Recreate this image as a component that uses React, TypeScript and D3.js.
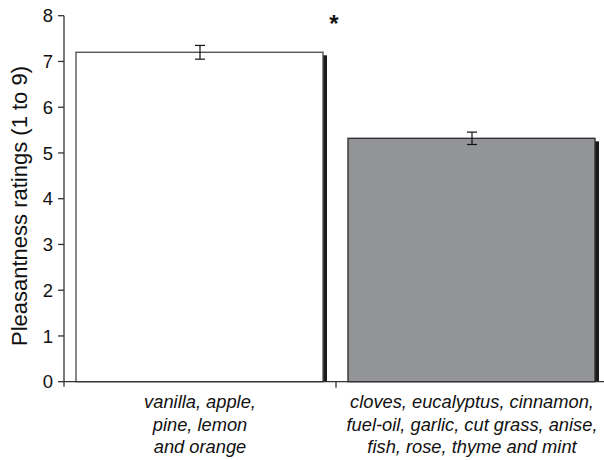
import React from "react";
import * as d3 from "d3";

const categories = ["odorsA", "odorsB"];
const labelLines = [
  ["vanilla, apple,", "pine, lemon", "and orange"],
  ["cloves, eucalyptus, cinnamon,", "fuel-oil, garlic, cut grass, anise,", "fish, rose, thyme and mint"],
];
const values = [7.2, 5.32];
const errors = [0.15, 0.135];
const yTicks = [0, 1, 2, 3, 4, 5, 6, 7, 8];
const fills = ["#ffffff", "#939497"];
const strokes = ["#555555", "#333333"];

export default function App() {
  const W = 604, H = 460;
  const left = 64, right = 608, top = 15.7, bottom = 381.7;
  const x = d3.scaleBand<string>().domain(categories).range([left, right]).paddingInner(0).paddingOuter(0);
  const y = d3.scaleLinear().domain([0, 8]).range([bottom, top]);
  const bw = x.bandwidth();
  const barInset = 12;
  const font = "Liberation Sans, Arial, sans-serif";
  return (
    <svg width={W} height={H} style={{ position: "absolute", left: 0, top: 0 }} fontFamily={font}>
      <rect width={W} height={H} fill="#fff" />
      {categories.map((c, i) => {
        const x0 = x(c)! + barInset;
        const x1 = x(c)! + bw - barInset - 1;
        const yt = y(values[i]);
        return (
          <g key={c}>
            <rect x={x1} y={yt + 3} width={4} height={bottom - yt - 3} fill="#1a1a1a" />
            <rect x={x0} y={yt} width={x1 - x0} height={bottom - yt} fill={fills[i]} stroke={strokes[i]} strokeWidth={1.4} />
          </g>
        );
      })}
      {categories.map((c, i) => {
        const cx = x(c)! + bw / 2;
        const y1 = y(values[i] + errors[i]);
        const y2 = y(values[i] - errors[i]);
        return (
          <g key={c + "e"} stroke="#111" strokeWidth={1.2}>
            <line x1={cx} x2={cx} y1={y1} y2={y2} />
            <line x1={cx - 5} x2={cx + 5} y1={y1} y2={y1} />
            <line x1={cx - 5} x2={cx + 5} y1={y2} y2={y2} />
          </g>
        );
      })}
      {/* y axis */}
      <line x1={left} x2={left} y1={top} y2={bottom + 5} stroke="#333" strokeWidth={1.3} />
      {yTicks.map((t) => (
        <g key={t}>
          <line x1={left - 6} x2={left} y1={y(t)} y2={y(t)} stroke="#333" strokeWidth={1.3} />
          <text x={left - 11} y={y(t)} dy="0.36em" textAnchor="end" fontSize={18.5} fill="#111">{t}</text>
        </g>
      ))}
      {/* x axis */}
      <line x1={left} x2={W} y1={bottom} y2={bottom} stroke="#333" strokeWidth={1.3} />
      <line x1={x(categories[1])!} x2={x(categories[1])!} y1={bottom} y2={bottom + 6} stroke="#333" strokeWidth={1.3} />
      {categories.map((c, i) => (
        <text key={c + "l"} x={x(c)! + bw / 2} textAnchor="middle" fontSize={18.3} fontStyle="italic" fill="#111">
          {labelLines[i].map((ln, j) => (
            <tspan key={j} x={x(c)! + bw / 2} y={408 + j * 22.5}>{ln}</tspan>
          ))}
        </text>
      ))}
      <text transform={`translate(27, 206) rotate(-90)`} textAnchor="middle" fontSize={22} fill="#111">
        Pleasantness ratings (1 to 9)
      </text>
      <text x={334} y={32} textAnchor="middle" fontSize={24} fontWeight="bold" fill="#111">*</text>
    </svg>
  );
}
